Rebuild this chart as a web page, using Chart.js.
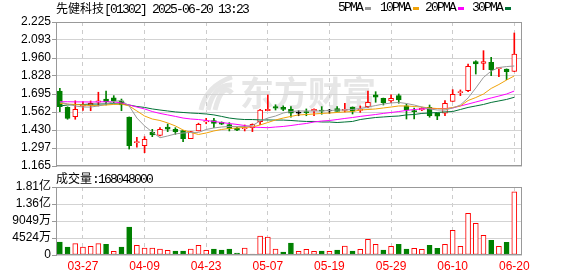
<!DOCTYPE html>
<html>
<head>
<meta charset="utf-8">
<script src="https://cdn.jsdelivr.net/npm/chart.js@4.4.1/dist/chart.umd.min.js"></script>
<style>
  body { margin: 0; background: #fff; }
  #wrap { position: relative; width: 578px; height: 276px; overflow: hidden; }
  #wrap canvas { position: absolute; left: 0; }
  .txt { position: absolute; font-size: 13px; font-family: "Liberation Mono", "Noto Sans CJK SC", monospace; letter-spacing: -1.8px; line-height: 14px; white-space: nowrap; color: #000; }
  .cjk { font-family: "Noto Sans CJK SC", sans-serif; font-size: 12px; letter-spacing: 0; }
  .key { position: absolute; top: 7px; width: 6px; height: 3px; }
</style>
</head>
<body>
<div id="wrap">
  <canvas id="priceChart" width="578" height="176" style="top:0"></canvas>
  <canvas id="volChart" width="578" height="106" style="top:170px"></canvas>

  <div class="txt" style="left:56px;top:1px;"><span class="cjk">先健科技</span>[01302] 2025-06-20 13:23</div>

  <div class="txt" style="left:338px;top:1px;">5PMA</div>
  <div class="key" style="left:365px;background:#999999;"></div>
  <div class="txt" style="left:380px;top:1px;">10PMA</div>
  <div class="key" style="left:413px;background:#f0a30a;"></div>
  <div class="txt" style="left:425px;top:1px;">20PMA</div>
  <div class="key" style="left:458px;background:#ff00ff;"></div>
  <div class="txt" style="left:472px;top:1px;">30PMA</div>
  <div class="key" style="left:505px;background:#007236;"></div>

  <div class="txt" style="left:56px;top:171px;"><span class="cjk">成交量</span>:168048000</div>
</div>

<script>
// Trading days shown
const dates = ['03-24','03-25','03-26','03-27','03-28','03-31','04-01','04-02','04-03','04-07',
    '04-08','04-09','04-10','04-11','04-14','04-15','04-16','04-17','04-22','04-23',
    '04-24','04-25','04-28','04-29','04-30','05-02','05-06','05-07','05-08','05-09',
    '05-12','05-13','05-14','05-15','05-16','05-19','05-20','05-21','05-22','05-23',
    '05-26','05-27','05-28','05-29','05-30','06-02','06-03','06-04','06-05','06-06',
    '06-09','06-10','06-11','06-12','06-13','06-16','06-17','06-18','06-19','06-20'];

const open = [1.717,1.597,1.528,1.605,1.612,1.634,1.658,1.666,1.644,1.526,
    1.337,1.315,1.413,1.391,1.452,1.435,1.425,1.366,1.423,1.490,
    1.499,1.487,1.469,1.443,1.440,1.447,1.491,1.572,1.602,1.597,
    1.582,1.553,1.563,1.570,1.577,1.570,1.587,1.575,1.597,1.575,
    1.602,1.688,1.663,1.644,1.683,1.607,1.572,1.577,1.597,1.553,
    1.553,1.641,1.705,1.719,1.933,1.921,1.928,1.881,1.879,1.862];
const high = [1.737,1.601,1.645,1.640,1.644,1.708,1.717,1.683,1.658,1.526,
    1.376,1.381,1.435,1.447,1.474,1.447,1.428,1.420,1.480,1.516,
    1.516,1.490,1.484,1.450,1.467,1.475,1.582,1.688,1.616,1.608,
    1.602,1.572,1.585,1.585,1.602,1.582,1.602,1.627,1.600,1.607,
    1.717,1.712,1.665,1.688,1.695,1.621,1.592,1.595,1.614,1.555,
    1.646,1.727,1.725,1.916,1.940,2.014,1.965,1.890,1.880,2.144];
const low = [1.565,1.509,1.509,1.575,1.572,1.607,1.614,1.631,1.572,1.290,
    1.303,1.263,1.381,1.386,1.418,1.398,1.344,1.366,1.423,1.476,
    1.447,1.470,1.423,1.425,1.423,1.418,1.470,1.572,1.577,1.572,
    1.524,1.535,1.535,1.535,1.546,1.553,1.568,1.563,1.548,1.560,
    1.594,1.634,1.614,1.631,1.627,1.511,1.511,1.572,1.524,1.506,
    1.535,1.640,1.683,1.712,1.842,1.874,1.830,1.822,1.800,1.860];
const close = [1.602,1.516,1.582,1.612,1.627,1.644,1.636,1.646,1.614,1.315,
    1.344,1.362,1.393,1.435,1.437,1.418,1.366,1.418,1.472,1.496,
    1.479,1.472,1.440,1.428,1.447,1.472,1.577,1.582,1.590,1.582,
    1.553,1.553,1.558,1.582,1.568,1.570,1.567,1.582,1.568,1.582,
    1.634,1.671,1.631,1.663,1.651,1.577,1.565,1.590,1.535,1.531,
    1.627,1.693,1.712,1.899,1.916,1.933,1.874,1.889,1.859,1.989];

// Moving averages as drawn
const ma5 = [1.636,1.621,1.607,1.599,1.599,1.607,1.621,1.640,1.647,1.607,
    1.518,1.460,1.415,1.373,1.386,1.401,1.408,1.412,1.412,1.434,
    1.445,1.452,1.456,1.456,1.456,1.463,1.496,1.518,1.533,1.555,
    1.566,1.570,1.570,1.570,1.570,1.574,1.577,1.577,1.581,1.588,
    1.599,1.610,1.621,1.629,1.633,1.625,1.614,1.599,1.585,1.577,
    1.577,1.592,1.614,1.666,1.739,1.817,1.864,1.890,1.897,1.901];
const ma10 = [1.627,1.621,1.618,1.614,1.610,1.610,1.614,1.618,1.621,1.607,
    1.570,1.533,1.511,1.500,1.482,1.460,1.430,1.412,1.397,1.408,
    1.423,1.434,1.441,1.445,1.449,1.452,1.467,1.485,1.504,1.518,
    1.530,1.541,1.544,1.548,1.552,1.555,1.559,1.563,1.566,1.577,
    1.581,1.585,1.592,1.599,1.607,1.607,1.603,1.599,1.592,1.588,
    1.585,1.596,1.607,1.647,1.669,1.695,1.736,1.765,1.798,1.828];
const ma20 = [1.638,1.638,1.637,1.637,1.636,1.637,1.638,1.637,1.629,1.614,
    1.599,1.585,1.566,1.552,1.541,1.530,1.518,1.511,1.507,1.500,
    1.493,1.485,1.478,1.471,1.463,1.452,1.449,1.447,1.452,1.456,
    1.463,1.471,1.478,1.489,1.496,1.500,1.507,1.515,1.522,1.530,
    1.537,1.544,1.552,1.559,1.566,1.574,1.581,1.585,1.588,1.588,
    1.588,1.592,1.607,1.621,1.636,1.651,1.666,1.680,1.695,1.717];
const ma30 = [1.607,1.614,1.618,1.618,1.621,1.621,1.622,1.623,1.621,1.614,
    1.603,1.596,1.585,1.577,1.570,1.563,1.559,1.555,1.552,1.548,
    1.541,1.530,1.518,1.511,1.507,1.507,1.504,1.504,1.503,1.503,
    1.500,1.496,1.493,1.493,1.489,1.489,1.485,1.489,1.493,1.507,
    1.515,1.522,1.526,1.530,1.533,1.541,1.544,1.552,1.555,1.559,
    1.563,1.566,1.581,1.596,1.607,1.618,1.633,1.644,1.655,1.671];

// Volume (shares) and its colour (1 = red, 0 = green)
const volume = [34600000,21300000,30100000,21300000,23100000,30100000,28400000,9800000,21300000,74500000,
    25700000,18600000,18600000,16000000,12400000,10600000,10600000,16000000,25700000,12400000,
    16000000,13300000,16000000,5300000,18600000,2700000,50600000,47900000,16000000,8000000,
    32000000,9800000,15000000,9800000,10600000,9800000,13300000,24000000,10600000,15000000,
    41700000,28400000,13300000,23000000,28400000,16000000,17700000,15000000,25700000,17700000,
    28400000,65600000,23000000,110900000,84300000,52400000,39000000,23000000,33700000,168048000];
const volUp = [0,0,1,1,1,1,0,1,0,0, 1,1,1,1,1,0,0,1,1,1, 0,0,0,0,1,1,1,1,1,0,
    0,1,1,1,0,1,0,1,0,1, 1,1,0,1,0,0,1,1,0,0, 1,1,1,1,1,1,0,1,0,1];

const priceTickLabels = ['1.165','1.297','1.430','1.562','1.695','1.828','1.960','2.093','2.225'];
const volTickValues = [0, 45240000, 90490000, 135730000, 180980000];
const volTickLabels = ['0', '4524万', '9049万', '1.36亿', '1.81亿'];
const dateLabels = ['03-27','04-09','04-23','05-07','05-19','05-29','06-10','06-20'];

const RED = '#ff0000';
const GREEN = '#008000';
const dateTicks = dateLabels.map(d => dates.indexOf(d));

function candleColor(i) {
    if (close[i] > open[i]) return RED;
    if (close[i] < open[i]) return GREEN;
    return '#000000';
}

const tickFont = { family: '"Liberation Sans", "Noto Sans CJK SC", sans-serif', size: 12 };

// gray frame round the plot area
const frame = {
    id: 'frame',
    afterDraw(chart) {
        const { ctx, chartArea: a } = chart;
        ctx.save();
        ctx.strokeStyle = '#999';
        ctx.lineWidth = 1;
        ctx.strokeRect(Math.round(a.left) + 0.5, Math.round(a.top) + 0.5,
            Math.round(a.right - a.left) - 1, Math.round(a.bottom - a.top) - 1);
        ctx.restore();
    }
};

// faint site watermark
const watermark = {
    id: 'watermark',
    beforeDraw(chart) {
        const ctx = chart.ctx;
        ctx.save();
        ctx.fillStyle = '#e6e6e6';
        ctx.strokeStyle = '#e6e6e6';
        ctx.font = 'bold 34px "Noto Sans CJK SC"';
        ctx.textBaseline = 'middle';
        ctx.fillText('东方财富', 240, 93);
        ctx.lineWidth = 5;
        for (let k = 0; k < 3; k++) {
            ctx.beginPath();
            ctx.moveTo(201 + k * 7, 110);
            ctx.quadraticCurveTo(206 + k * 8, 86 - k * 2, 232, 77 + k * 8);
            ctx.stroke();
        }
        ctx.restore();
    }
};

function xScale(extra) {
    return Object.assign({
        type: 'linear',
        min: -0.5,
        max: 60,
        offset: false,
        afterBuildTicks: s => { s.ticks = dateTicks.map(v => ({ value: v })); },
        grid: { color: '#cccccc', drawTicks: false, offset: false },
        border: { display: false, dash: [4, 4] }
    }, extra);
}

// Price chart
new Chart(document.getElementById('priceChart'), {
    type: 'bar',
    data: {
        datasets: [
            {
                type: 'line', label: 'MA5', order: 0,
                data: ma5.map((v, i) => ({ x: i, y: v })),
                borderColor: '#999999', borderWidth: 1, pointRadius: 0
            },
            {
                type: 'line', label: 'MA10', order: 0,
                data: ma10.map((v, i) => ({ x: i, y: v })),
                borderColor: '#f0a30a', borderWidth: 1, pointRadius: 0
            },
            {
                type: 'line', label: 'MA20', order: 0,
                data: ma20.map((v, i) => ({ x: i, y: v })),
                borderColor: '#ff00ff', borderWidth: 1, pointRadius: 0
            },
            {
                type: 'line', label: 'MA30', order: 0,
                data: ma30.map((v, i) => ({ x: i, y: v })),
                borderColor: '#007236', borderWidth: 1, pointRadius: 0
            },
            {
                label: 'body', order: 1,
                data: open.map((v, i) => ({ x: i, y: [v, close[i]] })),
                backgroundColor: open.map((v, i) => close[i] > v ? '#ffffff' : candleColor(i)),
                borderColor: open.map((v, i) => candleColor(i)),
                borderWidth: 1,
                borderSkipped: false,
                barThickness: 5,
                minBarLength: 1,
                grouped: false
            },
            {
                label: 'wick', order: 2,
                data: low.map((v, i) => ({ x: i, y: [v, high[i]] })),
                backgroundColor: low.map((v, i) => candleColor(i)),
                borderWidth: 0,
                barThickness: 1,
                grouped: false
            }
        ]
    },
    options: {
        responsive: false,
        animation: false,
        layout: { padding: { left: 0, right: 56, top: 22, bottom: 10 } },
        plugins: { legend: { display: false }, tooltip: { enabled: false } },
        scales: {
            x: xScale({
                ticks: { display: false },
                afterFit: s => { s.height = 0; }
            }),
            y: {
                min: 1.165,
                max: 2.225,
                afterBuildTicks: s => { s.ticks = priceTickLabels.map(t => ({ value: parseFloat(t) })); },
                afterFit: s => { s.width = 56; },
                ticks: {
                    callback: (v, i) => priceTickLabels[i],
                    autoSkip: false, color: '#000', font: tickFont, padding: 1
                },
                grid: { color: '#d3d3d3', tickColor: '#999', tickLength: 4 },
                border: { color: '#999' }
            }
        }
    },
    plugins: [watermark, frame]
});

// Volume chart
new Chart(document.getElementById('volChart'), {
    type: 'bar',
    data: {
        datasets: [{
            label: 'volume',
            data: volume.map((v, i) => ({ x: i, y: v })),
            backgroundColor: volUp.map(u => u ? '#ffffff' : GREEN),
            borderColor: volUp.map(u => u ? RED : GREEN),
            borderWidth: 1,
            borderSkipped: false,
            barThickness: 5
        }]
    },
    options: {
        responsive: false,
        animation: false,
        layout: { padding: { left: 0, right: 56, top: 17, bottom: 0 } },
        plugins: { legend: { display: false }, tooltip: { enabled: false } },
        scales: {
            x: xScale({
                ticks: {
                    callback: v => dates[v],
                    autoSkip: false, maxRotation: 0, color: RED, font: tickFont, padding: 4
                },
                afterFit: s => { s.height = 21; }
            }),
            y: {
                min: 0,
                max: 180980000,
                afterBuildTicks: s => { s.ticks = volTickValues.map(v => ({ value: v })); },
                afterFit: s => { s.width = 56; },
                ticks: {
                    callback: (v, i) => volTickLabels[i],
                    autoSkip: false, color: '#000', font: tickFont, padding: 1
                },
                grid: { color: '#d3d3d3', tickColor: '#999', tickLength: 4 },
                border: { color: '#999' }
            }
        }
    },
    plugins: [frame]
});
</script>
</body>
</html>
